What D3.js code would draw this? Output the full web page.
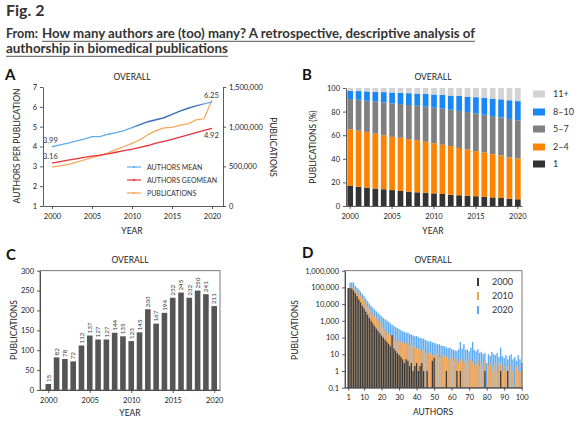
<!DOCTYPE html>
<html><head><meta charset="utf-8">
<script src="https://cdn.jsdelivr.net/npm/d3@7"></script>
<style>
body{margin:0;background:#fff}
svg{display:block}
text{font-family:Lato,"Open Sans",sans-serif;fill:#222}
.axis path,.axis line{stroke:#333;stroke-width:0.8}
.axis text{font-size:7.5px;fill:#222;font-family:Lato,"Open Sans",sans-serif}
</style>
</head><body>
<svg id="c" width="578" height="421"></svg>
<script>
// ---------- DATA ----------
const years = [2000,2001,2002,2003,2004,2005,2006,2007,2008,2009,2010,2011,2012,2013,2014,2015,2016,2017,2018,2019,2020];
// Panel A
const authorsMean   = [3.99,4.08,4.17,4.27,4.37,4.50,4.50,4.62,4.70,4.80,4.95,5.10,5.25,5.35,5.45,5.62,5.78,5.93,6.05,6.15,6.25];
const authorsGeomean= [3.16,3.24,3.31,3.38,3.45,3.52,3.56,3.63,3.71,3.79,3.87,3.96,4.05,4.17,4.26,4.36,4.47,4.59,4.70,4.81,4.92];
const publications  = [490000,505000,525000,550000,580000,610000,635000,670000,710000,750000,790000,835000,900000,950000,985000,990000,1020000,1035000,1085000,1100000,1340000];
const aLeftTicks = [1,2,3,4,5,6,7];
const aRightTicks = [0,500000,1000000,1500000];
const yearTicks = [2000,2005,2010,2015,2020];
// Panel B (% of publications by author count group)
const groupKeys = ["1","2–4","5–7","8–10","11+"];
const share1    = [17.3,16.3,15.6,14.8,14.2,13.5,12.8,12.2,11.6,11.2,10.7,10.2,9.6,9.1,8.7,8.3,7.8,7.3,6.8,6.2,5.7];
const share2to4 = [47.6,47.5,47.2,46.5,45.8,45.1,45.0,44.4,44.2,43.2,42.5,41.7,41.2,40.1,39.3,38.2,37.6,36.6,36.0,35.0,34.6];
const share5to7 = [25.7,26.2,26.4,27.2,27.8,28.4,28.6,29.0,29.2,29.8,30.1,30.6,30.8,31.4,31.6,31.9,31.9,32.3,32.3,32.6,32.3];
const share8to10= [7.1,7.4,7.9,8.3,8.7,9.2,9.5,10.0,10.3,10.7,11.2,11.6,12.0,12.6,13.1,13.8,14.3,14.8,15.3,15.8,16.3];
const share11p  = [2.3,2.6,2.9,3.2,3.5,3.8,4.1,4.4,4.7,5.1,5.5,5.9,6.4,6.8,7.3,7.8,8.4,9.0,9.6,10.4,11.1];
const bTicks = [0,20,40,60,80,100];
// Panel C
const cCounts = [15,82,78,72,112,137,127,127,144,135,123,145,203,167,194,232,245,232,250,241,211];
const cTicks = [0,50,100,150,200,250,300];
// Panel D (publications by number of authors 1..100)
const authorsN = [1,2,3,4,5,6,7,8,9,10,11,12,13,14,15,16,17,18,19,20,21,22,23,24,25,26,27,28,29,30,31,32,33,34,35,36,37,38,39,40,41,42,43,44,45,46,47,48,49,50,51,52,53,54,55,56,57,58,59,60,61,62,63,64,65,66,67,68,69,70,71,72,73,74,75,76,77,78,79,80,81,82,83,84,85,86,87,88,89,90,91,92,93,94,95,96,97,98,99,100];
const d2000 = [90000,92000,85000,65000,45000,30000,19000,12500,8000,5500,3500,2300,1500,1000,700,480,340,250,180,130,100,75,55,42,30,140,22,16,12,9,7,5,3,5,4,2,3,1,2,3,1,2,3,1,0,1,0,0,4,6,0,0,0,0,0,0,1,0,0,0,0,0,1,0,1,0,0,0,0,0,0,0,0,0,0,0,0,0,1,0,0,0,0,0,0,0,0,1,0,0,0,1,0,0,0,0,0,0,0,0];
const d2010 = [88000,100000,100000,95000,80000,60000,45000,32000,22000,15000,11000,8000,5500,4000,2800,2000,1400,1000,750,550,400,300,230,170,130,100,80,60,55,70,60,50,40,55,45,35,40,25,30,24,20,18,15,20,12,14,10,12,8,10,9,11,7,8,6,9,7,5,6,8,4,5,6,3,5,4,3,5,4,3,5,4,2,3,4,2,3,1,4,0,2,3,1,2,3,1,2,3,1,2,1,2,1,2,1,0,2,1,1,1];
const d2020 = [85000,190000,200000,195000,120000,95000,75000,55000,40000,30000,21000,15000,11000,8000,6200,4700,3700,2900,2300,1850,1500,1250,1050,880,700,600,500,420,370,320,280,240,220,195,200,170,150,135,120,125,105,95,90,85,72,65,58,60,52,48,44,38,40,33,32,30,26,23,25,20,19,17,16,20,55,22,40,18,20,15,25,55,18,15,20,12,14,10,12,3,10,8,14,10,9,12,7,25,8,6,9,5,8,10,5,7,4,9,5,3];
const dXTicks = [1,10,20,30,40,50,60,70,80,90,100];
const dYTicks = [0.1,1,10,100,1000,10000,100000,1000000];

// ---------- DRAW ----------
const svg = d3.select("#c");
svg.append("rect").attr("width",578).attr("height",421).attr("fill","#fff");
const hdr = "#333";
svg.append("text").attr("x",6).attr("y",16).attr("font-size",16).attr("font-weight",700).style("fill",hdr).text("Fig. 2");
svg.append("text").attr("x",6).attr("y",38).attr("font-size",12.5).attr("font-weight",700).style("fill",hdr)
  .attr("textLength",32).attr("lengthAdjust","spacingAndGlyphs").text("From:");
svg.append("text").attr("x",42).attr("y",38).attr("font-size",12.5).attr("font-weight",700).style("fill",hdr)
  .attr("textLength",433).attr("lengthAdjust","spacingAndGlyphs").text("How many authors are (too) many? A retrospective, descriptive analysis of");
svg.append("text").attr("x",6).attr("y",53).attr("font-size",12.5).attr("font-weight",700).style("fill",hdr)
  .attr("textLength",222).attr("lengthAdjust","spacingAndGlyphs").text("authorship in biomedical publications");
svg.append("line").attr("x1",42).attr("x2",475).attr("y1",41.3).attr("y2",41.3).attr("stroke","#555").attr("stroke-width",1);
svg.append("line").attr("x1",6).attr("x2",228).attr("y1",56.3).attr("y2",56.3).attr("stroke","#555").attr("stroke-width",1);

function letter(t,x,y){svg.append("text").attr("x",x).attr("y",y).attr("font-size",15).attr("font-family","'Liberation Sans',Arial,sans-serif").attr("font-weight",700).style("fill","#111").text(t);}
function label(t,x,y,size,rot){const e=svg.append("text").attr("text-anchor","middle").attr("font-size",size).style("fill","#222").text(t);
  if(rot){e.attr("transform",`translate(${x},${y}) rotate(${rot})`);}else{e.attr("x",x).attr("y",y);} return e;}

// ===== Panel A =====
letter("A",5,80);
label("OVERALL",132,80,8.5);
const xA = d3.scaleLinear().domain([1998.875,2021.375]).range([43,223]);
const yA = d3.scaleLinear().domain([1,7]).range([206,87]);
const yA2 = d3.scaleLinear().domain([0,1500000]).range([206,87]);
svg.append("g").attr("class","axis").attr("transform","translate(0,206)")
  .call(d3.axisBottom(xA).tickValues(yearTicks).tickFormat(d3.format("d")).tickSize(3).tickSizeOuter(0))
  .selectAll("text").attr("dy","0.9em");
svg.append("g").attr("class","axis").attr("transform","translate(43,0)")
  .call(d3.axisLeft(yA).tickValues(aLeftTicks).tickFormat(d3.format("d")).tickSize(3).tickSizeOuter(0));
svg.append("g").attr("class","axis").attr("transform","translate(223,0)")
  .call(d3.axisRight(yA2).tickValues(aRightTicks).tickFormat(d3.format(",")).tickSize(3).tickSizeOuter(0));
label("AUTHORS PER PUBLICATION",20,146,8.5,-90);
label("PUBLICATIONS",270,147,8.5,90);
label("YEAR",132,234,8.5);

const grad = svg.append("defs").append("linearGradient").attr("id","meanGrad")
  .attr("gradientUnits","userSpaceOnUse").attr("x1",43).attr("x2",223).attr("y1",0).attr("y2",0);
const off = v => (xA(v)-43)/180;
[[0,"#62ace9"],[off(2009.8),"#62ace9"],[off(2011),"#3b6db4"],[off(2018),"#3b6db4"],[off(2019.2),"#62ace9"],[1,"#62ace9"]]
  .forEach(s=>grad.append("stop").attr("offset",s[0]).attr("stop-color",s[1]));

svg.append("path").datum(publications).attr("fill","none").attr("stroke","#f4a757").attr("stroke-width",1.2)
  .attr("d",d3.line().x((d,i)=>xA(years[i])).y(d=>yA2(d)));
svg.append("path").datum(authorsGeomean).attr("fill","none").attr("stroke","#e63238").attr("stroke-width",1.3)
  .attr("d",d3.line().x((d,i)=>xA(years[i])).y(d=>yA(d)));
svg.append("path").datum(authorsMean).attr("fill","none").attr("stroke","url(#meanGrad)").attr("stroke-width",1.4)
  .attr("d",d3.line().x((d,i)=>xA(years[i])).y(d=>yA(d)));

function valLab(t,x,y){svg.append("text").attr("x",x).attr("y",y).attr("font-size",7.5).style("fill","#333").text(t);}
valLab(authorsMean[0].toFixed(2),43,yA(authorsMean[0])-4);
valLab(authorsGeomean[0].toFixed(2),43,yA(authorsGeomean[0])-4);
valLab(authorsMean[20].toFixed(2),204,yA(authorsMean[20])-4);
valLab(authorsGeomean[20].toFixed(2),204,yA(authorsGeomean[20])+10);

const legA = [["AUTHORS MEAN","#62ace9"],["AUTHORS GEOMEAN","#e63238"],["PUBLICATIONS","#f4a757"]];
legA.forEach((l,i)=>{const y=[167,180,193][i];
  svg.append("line").attr("x1",127).attr("x2",141).attr("y1",y).attr("y2",y).attr("stroke",l[1]).attr("stroke-width",1.2);
  svg.append("circle").attr("cx",134).attr("cy",y).attr("r",1.1).attr("fill",l[1]);
  svg.append("text").attr("x",147).attr("y",y+2.5).attr("font-size",7).style("fill","#333").text(l[0]);});

// ===== Panel B =====
letter("B",302,80);
label("OVERALL",433,80,8.5);
const xB = d3.scaleBand().domain(years).range([346,522]).paddingInner(0.32).paddingOuter(0.16);
const yB = d3.scaleLinear().domain([0,100]).range([206,88]);
const bRows = years.map((y,i)=>({year:y,"1":share1[i],"2–4":share2to4[i],"5–7":share5to7[i],"8–10":share8to10[i],"11+":share11p[i]}));
const bColors = {"1":"#333333","2–4":"#ff8300","5–7":"#808080","8–10":"#1a87f7","11+":"#d3d3d3"};
const stackB = d3.stack().keys(groupKeys)(bRows);
svg.append("g").selectAll("g").data(stackB).join("g").attr("fill",d=>bColors[d.key])
  .selectAll("rect").data(d=>d).join("rect")
  .attr("x",d=>xB(d.data.year)).attr("width",xB.bandwidth())
  .attr("y",d=>yB(Math.min(100,d[1]))).attr("height",d=>yB(d[0])-yB(Math.min(100,d[1])));
svg.append("g").attr("class","axis").attr("transform","translate(0,206)")
  .call(d3.axisBottom(xB).tickValues(yearTicks).tickSize(3).tickSizeOuter(0))
  .selectAll("text").attr("dy","0.9em");
svg.append("g").attr("class","axis").attr("transform","translate(346,0)")
  .call(d3.axisLeft(yB).tickValues(bTicks).tickSize(3).tickSizeOuter(0));
label("PUBLICATIONS (%)",316,147,8.5,-90);
label("YEAR",433,234,8.5);
const legB = ["11+","8–10","5–7","2–4","1"];
legB.forEach((k,i)=>{const cy=[94,112,129,147,164][i];
  svg.append("rect").attr("x",533).attr("y",cy-3.5).attr("width",12).attr("height",7).attr("fill",bColors[k]);
  svg.append("text").attr("x",553).attr("y",cy+3.2).attr("font-size",9).style("fill","#333").text(k);});

// ===== Panel C =====
letter("C",6,260);
label("OVERALL",130,263,8.5);
const xC = d3.scaleLinear().domain([1999,2020.7]).range([40,220]);
const yC = d3.scaleLinear().domain([0,300]).range([390,270.7]);
const bwC = 5.6;
svg.append("g").selectAll("rect").data(cCounts).join("rect")
  .attr("x",(d,i)=>xC(years[i])-bwC/2).attr("width",bwC)
  .attr("y",d=>yC(d)).attr("height",d=>390-yC(d)).attr("fill","#555");
svg.append("g").selectAll("text").data(cCounts).join("text")
  .attr("transform",(d,i)=>`translate(${xC(years[i])+2.3},${yC(d)-2}) rotate(-90)`)
  .attr("font-size",6.3).style("fill","#333").text(d=>d);
svg.append("rect").attr("x",40).attr("y",270.7).attr("width",180).attr("height",119.3).attr("fill","none").attr("stroke","#555").attr("stroke-width",0.8);
svg.append("g").attr("class","axis").attr("transform","translate(0,390)")
  .call(d3.axisBottom(xC).tickValues(yearTicks).tickFormat(d3.format("d")).tickSize(3).tickSizeOuter(0))
  .selectAll("text").attr("dy","0.9em");
svg.append("g").attr("class","axis").attr("transform","translate(40,0)")
  .call(d3.axisLeft(yC).tickValues(cTicks).tickSize(3).tickSizeOuter(0));
label("PUBLICATIONS",17,330,8.5,-90);
label("YEAR",130,416,8.5);

// ===== Panel D =====
letter("D",302,258);
label("OVERALL",433,263,8.5);
const xD = d3.scaleLinear().domain([-0.88,100.17]).range([345,522]);
const yD = d3.scaleLog().domain([0.1,1000000]).range([387.7,270.7]);
const stepD = xD(1)-xD(0);
function drawSeries(vals,color,gap){
  svg.append("g").selectAll("rect").data(vals.map((v,i)=>({n:authorsN[i],v})).filter(d=>d.v>0)).join("rect")
    .attr("x",d=>xD(d.n-0.5)+gap/2).attr("width",stepD-gap)
    .attr("y",d=>yD(d.v)).attr("height",d=>387.7-yD(d.v)).attr("fill",color);
}
drawSeries(d2020,"#5eaaf0",0.35);
drawSeries(d2010,"#f4a658",0.35);
drawSeries(d2000,"#3a3a3a",0.45);
svg.append("rect").attr("x",345).attr("y",270.7).attr("width",177).attr("height",117).attr("fill","none").attr("stroke","#555").attr("stroke-width",0.8);
svg.append("g").attr("class","axis").attr("transform","translate(0,387.7)")
  .call(d3.axisBottom(xD).tickValues(dXTicks).tickFormat(d3.format("d")).tickSize(3).tickSizeOuter(0))
  .selectAll("text").attr("dy","0.9em");
svg.append("g").attr("class","axis").attr("transform","translate(345,0)")
  .call(d3.axisLeft(yD).tickValues(dYTicks).tickFormat(d=>d<1?"0.1":d3.format(",")(d)).tickSize(3).tickSizeOuter(0));
label("PUBLICATIONS",298,330,8.5,-90);
label("AUTHORS",433,415,8.5);
const legD = [["2000","#3a3a3a"],["2010","#f4a658"],["2020","#5eaaf0"]];
legD.forEach((l,i)=>{const cy=[282,296,310][i];
  svg.append("rect").attr("x",477).attr("y",cy-4).attr("width",2).attr("height",8).attr("fill",l[1]);
  svg.append("text").attr("x",492).attr("y",cy+3.3).attr("font-size",9).style("fill","#333").text(l[0]);});
</script>
</body></html>
